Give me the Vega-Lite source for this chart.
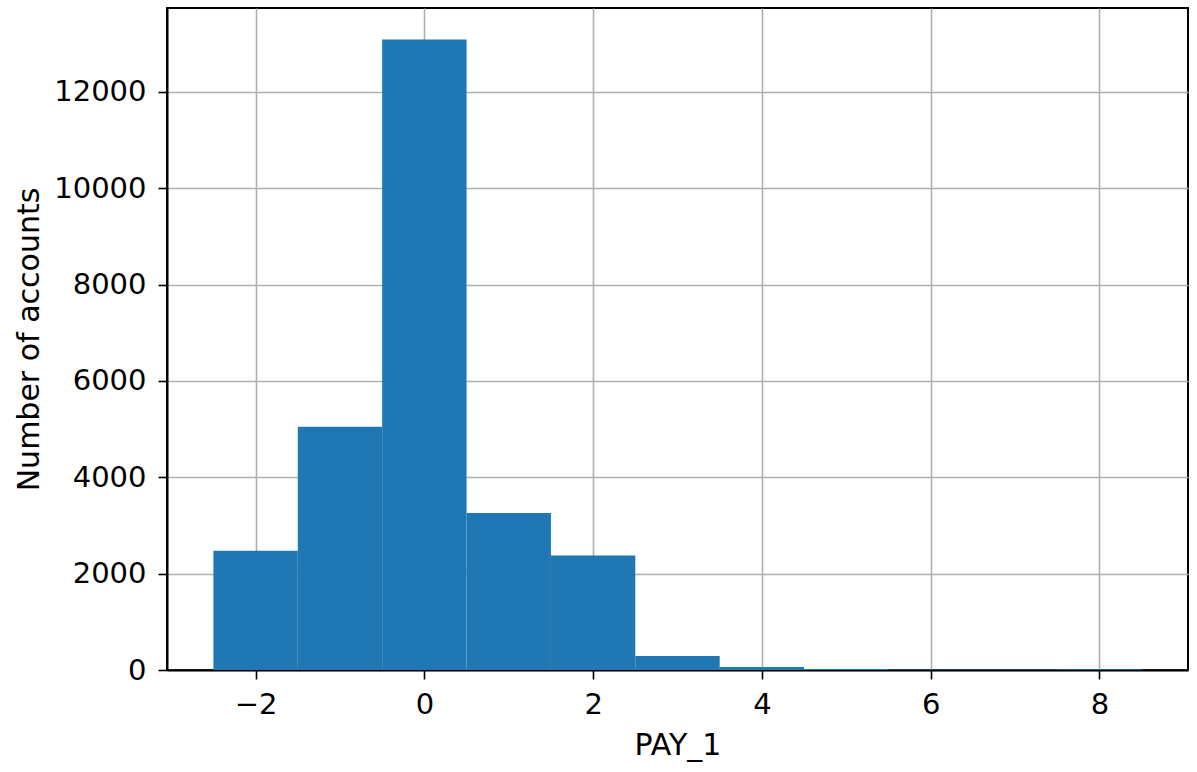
{
  "$schema": "https://vega.github.io/schema/vega-lite/v6.json",
  "width": 1021,
  "height": 662,
  "autosize": "none",
  "padding": {"left": 167, "top": 8, "right": 9, "bottom": 102},
  "background": "white",
  "data": {
    "values": [
      {"bin_start": -2.5, "bin_end": -1.5, "count": 2476},
      {"bin_start": -1.5, "bin_end": -0.5, "count": 5047},
      {"bin_start": -0.5, "bin_end": 0.5, "count": 13087},
      {"bin_start": 0.5, "bin_end": 1.5, "count": 3261},
      {"bin_start": 1.5, "bin_end": 2.5, "count": 2378},
      {"bin_start": 2.5, "bin_end": 3.5, "count": 292},
      {"bin_start": 3.5, "bin_end": 4.5, "count": 63},
      {"bin_start": 4.5, "bin_end": 5.5, "count": 23},
      {"bin_start": 5.5, "bin_end": 6.5, "count": 11},
      {"bin_start": 6.5, "bin_end": 7.5, "count": 9},
      {"bin_start": 7.5, "bin_end": 8.5, "count": 17}
    ]
  },
  "mark": {"type": "rect", "color": "#1f77b4"},
  "encoding": {
    "x": {
      "field": "bin_start",
      "type": "quantitative",
      "title": "PAY_1",
      "scale": {"domain": [-3.05, 9.05], "nice": false, "zero": false},
      "axis": {"values": [-2, 0, 2, 4, 6, 8], "format": "d", "titlePadding": 11, "labelPadding": 11}
    },
    "x2": {"field": "bin_end"},
    "y": {
      "field": "count",
      "type": "quantitative",
      "title": "Number of accounts",
      "scale": {"domain": [0, 13741], "nice": false},
      "axis": {"values": [0, 2000, 4000, 6000, 8000, 10000, 12000], "format": "d", "titlePadding": 9, "labelPadding": 12}
    }
  },
  "config": {
    "view": {"stroke": "black", "strokeWidth": 2},
    "axis": {
      "zindex": 1,
      "grid": true,
      "gridColor": "#b0b0b0",
      "gridWidth": 1.6,
      "gridOpacity": 1,
      "domainColor": "black",
      "domainWidth": 2,
      "tickColor": "black",
      "tickSize": 9,
      "tickWidth": 1.6,
      "labelFont": "DejaVu Sans",
      "labelFontSize": 29,
      "labelColor": "black",
      "titleFont": "DejaVu Sans",
      "titleFontSize": 30,
      "titleFontWeight": "normal",
      "titleColor": "black"
    }
  }
}
